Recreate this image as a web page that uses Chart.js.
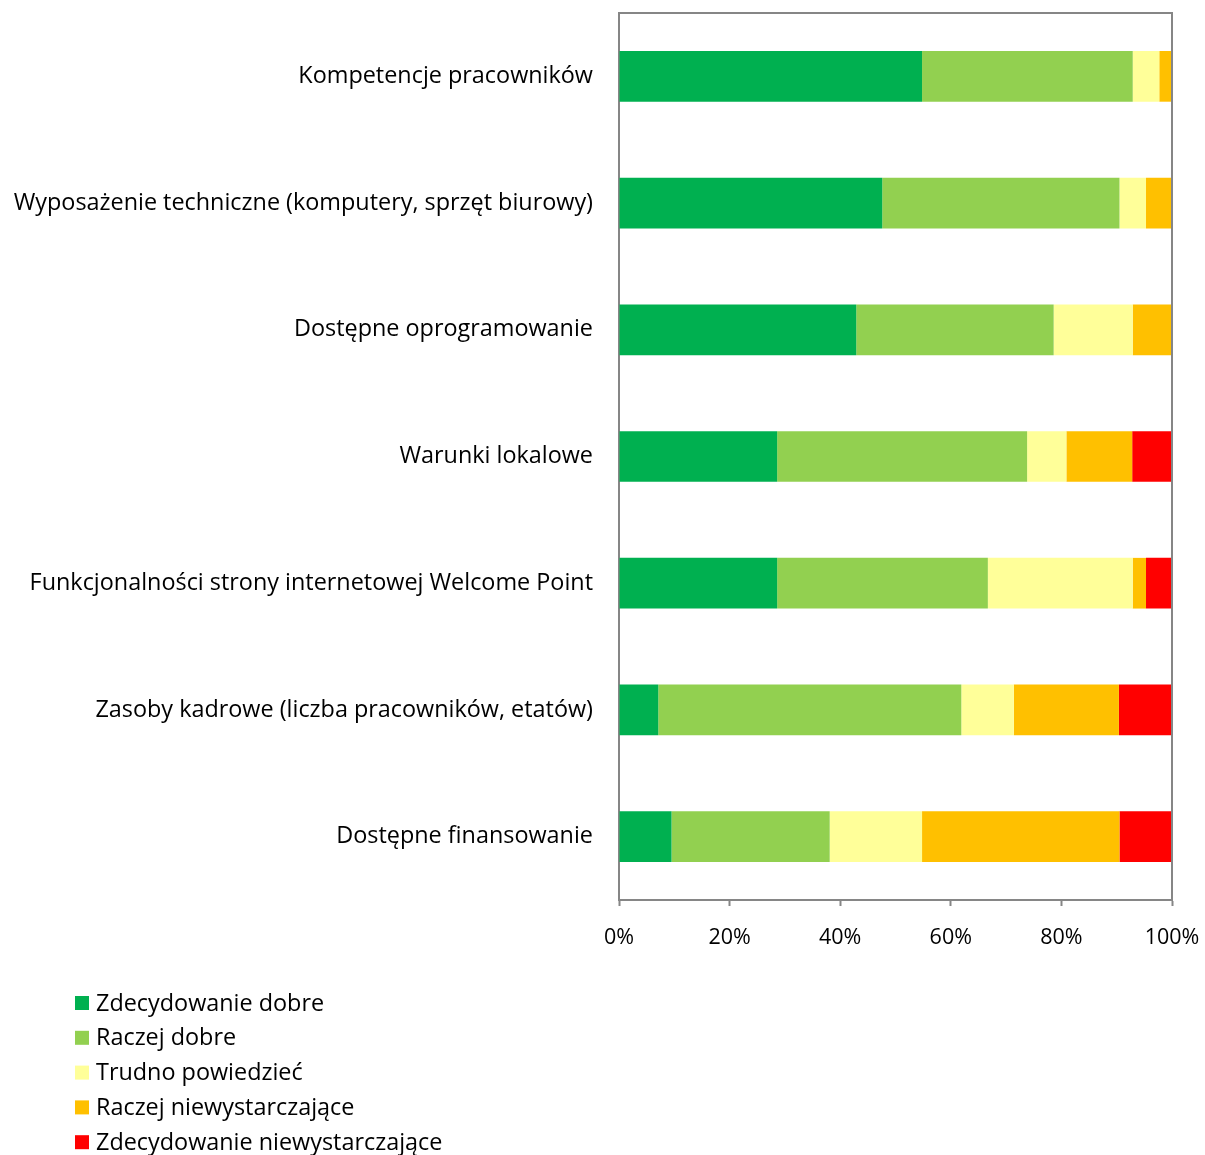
<!DOCTYPE html>
<html lang="pl">
<head>
<meta charset="utf-8">
<title>Ocena zasobów Welcome Point</title>
<script src="https://cdn.jsdelivr.net/npm/chart.js@4/dist/chart.umd.min.js"></script>
<style>
  html, body { margin: 0; padding: 0; background: #ffffff; }
  #wrap { width: 1205px; height: 1155px; position: relative; }
</style>
</head>
<body>
<div id="wrap"><canvas id="chart" width="1205" height="1155"></canvas></div>
<script>
// Aspects rated (top to bottom)
const categories = [
  'Kompetencje pracowników',
  'Wyposażenie techniczne (komputery, sprzęt biurowy)',
  'Dostępne oprogramowanie',
  'Warunki lokalowe',
  'Funkcjonalności strony internetowej Welcome Point',
  'Zasoby kadrowe (liczba pracowników, etatów)',
  'Dostępne finansowanie'
];

// Share of answers, in percent
const zdecydowanieDobre        = [54.8, 47.6, 42.9, 28.6, 28.6, 7.1, 9.5];
const raczejDobre              = [38.1, 42.9, 35.7, 45.2, 38.1, 54.8, 28.6];
const trudnoPowiedziec         = [4.8, 4.8, 14.3, 7.1, 26.2, 9.5, 16.7];
const raczejNiewystarczajace   = [2.4, 4.8, 7.1, 11.9, 2.4, 19.0, 35.7];
const zdecydowanieNiewystarcz  = [0, 0, 0, 7.1, 4.8, 9.5, 9.5];

const seriesNames = [
  'Zdecydowanie dobre',
  'Raczej dobre',
  'Trudno powiedzieć',
  'Raczej niewystarczające',
  'Zdecydowanie niewystarczające'
];
const seriesColors = ['#00B050', '#92D050', '#FFFF99', '#FFC000', '#FF0000'];
const seriesValues = [zdecydowanieDobre, raczejDobre, trudnoPowiedziec, raczejNiewystarczajace, zdecydowanieNiewystarcz];

const xTicks = [0, 20, 40, 60, 80, 100];

const FONT = '"Open Sans", Lato, sans-serif';
const FONT_SIZE = 23.4;
const TICK_FONT_SIZE = 21.5;
const AXIS_GRAY = '#868686';

// Closes the plot frame on the top and right sides
const framePlugin = {
  id: 'frame',
  afterDatasetsDraw(chart) {
    const { ctx, chartArea: a } = chart;
    ctx.save();
    ctx.strokeStyle = AXIS_GRAY;
    ctx.lineWidth = 2;
    ctx.beginPath();
    ctx.moveTo(a.left, a.top);
    ctx.lineTo(a.right, a.top);
    ctx.lineTo(a.right, a.bottom);
    ctx.stroke();
    ctx.restore();
  }
};

// Vertical legend in the lower-left corner
const stackedLegend = {
  id: 'stackedLegend',
  afterDraw(chart) {
    const { ctx } = chart;
    const x0 = 75, y0 = 1003, step = 34.8, box = 14;
    ctx.save();
    ctx.font = FONT_SIZE + 'px ' + FONT;
    ctx.textBaseline = 'middle';
    ctx.textAlign = 'left';
    chart.data.datasets.forEach((ds, i) => {
      const y = y0 + i * step;
      ctx.fillStyle = ds.backgroundColor;
      ctx.fillRect(x0, y - box / 2, box, box);
      ctx.fillStyle = '#000000';
      ctx.fillText(ds.label, x0 + 21, y + 1);
    });
    ctx.restore();
  }
};

new Chart(document.getElementById('chart'), {
  type: 'bar',
  data: {
    labels: categories,
    datasets: seriesNames.map((name, i) => ({
      label: name,
      data: seriesValues[i],
      backgroundColor: seriesColors[i],
      borderWidth: 0,
      categoryPercentage: 1,
      barPercentage: 0.4
    }))
  },
  options: {
    indexAxis: 'y',
    responsive: false,
    animation: false,
    devicePixelRatio: 1,
    layout: { padding: { top: 13, right: 33, left: 0, bottom: 0 } },
    plugins: {
      legend: { display: false },
      tooltip: { enabled: false }
    },
    scales: {
      x: {
        stacked: true,
        min: 0,
        max: 100,
        afterBuildTicks(scale) {
          scale.ticks = xTicks.map(v => ({ value: v }));
        },
        afterFit(scale) {
          scale.height = 255;
          scale.paddingLeft = 0;
          scale.paddingRight = 0;
        },
        grid: {
          drawOnChartArea: false,
          drawTicks: true,
          tickLength: 6,
          tickWidth: 2,
          tickColor: AXIS_GRAY
        },
        border: { display: true, color: AXIS_GRAY, width: 2 },
        ticks: {
          padding: 19,
          color: '#000000',
          font: { family: FONT, size: TICK_FONT_SIZE },
          maxRotation: 0,
          callback: v => v + '%'
        }
      },
      y: {
        stacked: true,
        afterFit(scale) {
          scale.width = 619;
          scale.paddingTop = 0;
          scale.paddingBottom = 0;
        },
        grid: { display: false, drawTicks: false },
        border: { display: true, color: AXIS_GRAY, width: 2 },
        ticks: {
          padding: 26,
          color: '#000000',
          font: { family: FONT, size: FONT_SIZE }
        }
      }
    }
  },
  plugins: [framePlugin, stackedLegend]
});
</script>
</body>
</html>
